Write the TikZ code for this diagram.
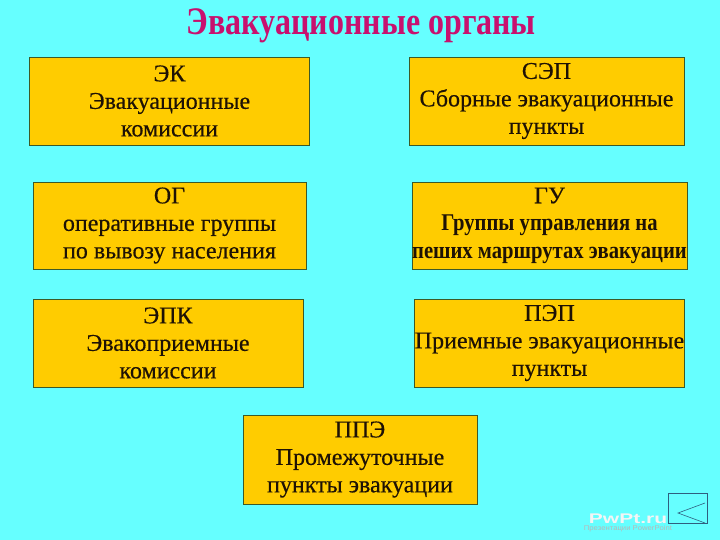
\documentclass[tikz,border=0pt]{standalone}
\usepackage{fontspec}
\setmainfont{Liberation Serif}
\setsansfont{Liberation Sans}
\newfontfamily\boxfont[FakeBold=0.4]{Liberation Serif}
\usetikzlibrary{positioning}
\definecolor{bgcyan}{HTML}{66FFFF}
\definecolor{boxyellow}{HTML}{FFCC00}
\definecolor{titlemag}{HTML}{C8106E}
\definecolor{boxtext}{HTML}{1E1205}
\definecolor{boxline}{HTML}{3C5A28}
\definecolor{navline}{HTML}{2F5F7F}
\newcommand{\narrowbf}[1]{\scalebox{0.86}[1]{\rmfamily\bfseries #1}}
\tikzset{
  organ/.style={draw=boxline, line width=0.8pt, fill=boxyellow, text=boxtext,
    align=center, inner sep=0pt, font=\boxfont\fontsize{24}{27.5}\selectfont},
}

\begin{document}
\begin{tikzpicture}[x=1pt,y=-1pt]
\fill[bgcyan] (0,0) rectangle (720,540);
\useasboundingbox (0,0) rectangle (720,540);
% title
\node[text=titlemag, font=\fontsize{39}{39}\bfseries, xscale=0.82, anchor=base] (title) at (361.5,35) {Эвакуационные органы};
% left column
\node[organ, minimum width=280, minimum height=88] (ek) at (169.5,101) {ЭК\\Эвакуационные\\комиссии};
\node[organ, minimum width=273, minimum height=87] (og) at (169.5,225.5) {ОГ\\оперативные группы\\по вывозу населения};
\node[organ, minimum width=270, minimum height=88] (epk) at (168,343) {ЭПК\\Эвакоприемные\\комиссии};
% right column
\node[organ, minimum width=275, minimum height=88] (sep) at (546.5,101) {СЭП\\Сборные эвакуационные\\пункты};
\node[organ, minimum width=275, minimum height=87] (gu) at (549.5,225.5) {ГУ\\\narrowbf{Группы управления на}\\\narrowbf{пеших маршрутах эвакуации}};
\node[organ, minimum width=269, minimum height=88] (pep) at (549.5,343) {ПЭП\\Приемные эвакуационные\\пункты};
% bottom
\node[organ, minimum width=234, minimum height=89] (ppe) at (360,459.5) {ППЭ\\Промежуточные\\пункты эвакуации};
% watermark
\node[text=white!92!gray, font=\sffamily\bfseries\fontsize{14}{14}\selectfont, inner sep=0pt, anchor=base] (pwpt) at (628,523) {\scalebox{1.5}[1]{PwPt.ru}};
\node[text=white!72!black, font=\sffamily\fontsize{7}{7}\selectfont, below=2pt of pwpt, inner sep=0pt] (pwsub) {\scalebox{1.1}[1]{Презентации PowerPoint}};
\draw[navline, line width=0.6pt] (668,493) rectangle (707,523);
\draw[navline, line width=0.6pt] (705,503) -- (678,513) -- (705,523);
\end{tikzpicture}
\end{document}
